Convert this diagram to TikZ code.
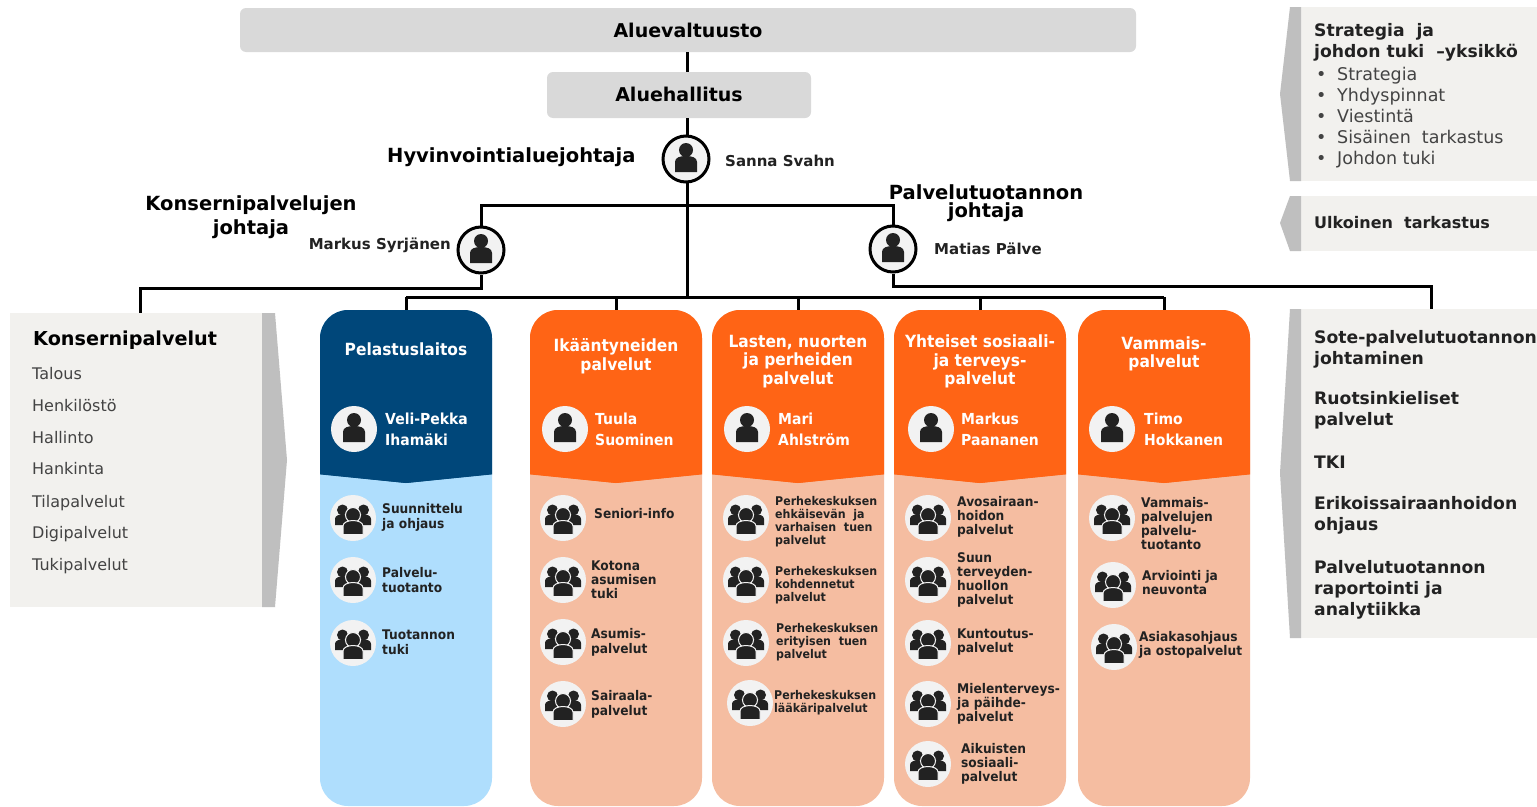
\documentclass[tikz,border=0pt]{standalone}
\usepackage{fontspec}
\setmainfont{DejaVu Sans}
\newfontfamily\tallf[FakeStretch=0.92]{DejaVu Sans}
\definecolor{navy}{HTML}{00477A}
\definecolor{orng}{HTML}{FF6415}
\definecolor{salm}{HTML}{F5BDA1}
\definecolor{lblue}{HTML}{AFDEFD}
\definecolor{panel}{HTML}{F2F1EE}
\definecolor{strip}{HTML}{BFBFBF}
\definecolor{barc}{HTML}{D9D9D9}
\definecolor{circ}{HTML}{F2F2F2}
\definecolor{ink}{HTML}{222222}
\newcommand{\fs}[2]{\fontsize{#1pt}{#2pt}\selectfont}
\tikzset{
  line/.style={draw=black,line width=3pt},
  barbox/.style={fill=barc,rounded corners=6pt,inner sep=0pt,font=\fs{19}{22}\bfseries},
  colbox/.style={rounded corners=28pt,inner sep=0pt,minimum width=172pt,minimum height=496pt},
  persring/.style={circle,draw=black,line width=3pt,fill=circ,minimum size=46pt,inner sep=0pt},
  pers/.style={circle,fill=circ,minimum size=46pt,inner sep=0pt},
  grp/.style={circle,fill=circ,minimum size=46pt,inner sep=0pt},
  hd/.style={align=center,inner sep=0pt,text=white,font=\tallf\fs{16.8}{18.5}\bfseries},
  pname/.style={align=left,anchor=west,inner sep=0pt,text=white,font=\tallf\fs{15.2}{21}\bfseries},
  unit/.style={align=left,anchor=west,inner sep=0pt,text=ink,font=\tallf\fs{13.3}{14}\bfseries},
  unitw/.style={align=left,anchor=west,inner sep=0pt,text=ink,font=\tallf\fs{13.3}{15}\bfseries},
  unitsm/.style={align=left,anchor=west,inner sep=0pt,text=ink,font=\tallf\fs{12}{13}\bfseries},
  role/.style={align=center,inner sep=0pt,font=\fs{19.5}{24}\bfseries},
  who/.style={align=left,inner sep=0pt,text=ink,font=\fs{15}{17}\bfseries},
  rtitle/.style={align=left,anchor=west,inner sep=0pt,text=ink,font=\fs{17.2}{21}\bfseries},
  rbody/.style={anchor=west,inner sep=0pt,text height=13pt,text depth=4pt,text=ink!85!white,font=\fs{17.5}{21}},
  ltxt/.style={anchor=west,inner sep=0pt,text height=12pt,text depth=4pt,text=ink!85!white,font=\fs{16}{18}},
  perso/.pic={\fill[ink] (0,-9) circle (7pt);
    \fill[ink] (-11,13) -- (-11,3) .. controls (-11,-1.5) and (-6,-3) .. (0,-3) .. controls (6,-3) and (11,-1.5) .. (11,3) -- (11,13) -- cycle;},
  group/.pic={\fill[ink] (-10.5,-8) circle (5.5pt) (10.5,-8) circle (5.5pt);
    \fill[ink] (-18,7) -- (-18,1) .. controls (-18,-2.5) and (-14,-3.5) .. (-10,-3.5) .. controls (-6,-3.5) and (-2,-2.5) .. (-2,1) -- (-2,7) -- cycle;
    \fill[ink] (2,7) -- (2,1) .. controls (2,-2.5) and (6,-3.5) .. (10,-3.5) .. controls (14,-3.5) and (18,-2.5) .. (18,1) -- (18,7) -- cycle;
    \filldraw[fill=ink,draw=circ,line width=1pt] (0,-3) circle (7.5pt);
    \filldraw[fill=ink,draw=circ,line width=1pt] (-10,16.5) -- (-10,8) .. controls (-10,4.5) and (-5,2.5) .. (0,2.5) .. controls (5,2.5) and (10,4.5) .. (10,8) -- (10,16.5) -- cycle;}
}
% #1 name, #2 centre x, #3 body colour, #4 header colour
\newcommand{\column}[4]{%
  \node[colbox,fill=#3] (#1) at (#2,558) {};
  \begin{scope}
    \clip (#2-90,300) rectangle (#2+90,474) (#2-90,474) -- (#2,483) -- (#2+90,474) -- cycle;
    \fill[#4,rounded corners=28pt] (#2-86,310) rectangle (#2+86,806);
    \fill[#4] (#2-86,474) -- (#2,483) -- (#2+86,474) -- cycle;
  \end{scope}}
% #1 name, #2 x, #3 y
\newcommand{\personnode}[3]{\node[pers] (#1) at (#2,#3) {}; \pic at (#1) {perso};}
\newcommand{\groupnode}[3]{\node[grp] (#1) at (#2,#3) {}; \pic at (#1) {group};}
\begin{document}
\begin{tikzpicture}[x=1pt,y=-1pt]
\useasboundingbox[fill=white] (0,0) rectangle (1537,806);
% top bars
\node[barbox,minimum width=896pt,minimum height=44pt] (valt) at (688,30) {Aluevaltuusto};
\node[barbox,minimum width=264pt,minimum height=46pt] (hall) at (679,95) {\raisebox{1pt}{Aluehallitus}};
% side panels
\fill[panel] (10,313) rectangle (262,607);
\fill[strip] (262,313) -- (275,313) -- (287,460) -- (275,607) -- (262,607) -- cycle;
\fill[panel] (1301,7) rectangle (1537,181);
\fill[strip] (1301,7) -- (1290,7) -- (1280,94) -- (1290,181) -- (1301,181) -- cycle;
\fill[panel] (1301,196) rectangle (1537,251);
\fill[strip] (1301,196) -- (1290,196) -- (1280,223) -- (1290,251) -- (1301,251) -- cycle;
\fill[panel] (1301,309) rectangle (1537,638);
\fill[strip] (1301,309) -- (1290,309) -- (1280,473) -- (1290,638) -- (1301,638) -- cycle;
\coordinate (lpanel) at (140,313);
\coordinate (rpanel) at (1431,309);
% columns
\column{c1}{406}{lblue}{navy}
\column{c2}{616}{salm}{orng}
\column{c3}{798}{salm}{orng}
\column{c4}{980}{salm}{orng}
\column{c5}{1164}{salm}{orng}
% leaders
\node[persring] (svahn) at (686,159) {};
\node[persring] (syrj) at (481,250) {};
\node[persring] (palve) at (893,249) {};
\pic at (svahn) {perso};
\pic at (syrj) {perso};
\pic at (palve) {perso};
% connectors
\coordinate (vtop) at (687,52);
\coordinate (htop) at (687,72);
\coordinate (hbot) at (687,118);
\coordinate (stop) at (687,136);
\coordinate (sbot) at (687,183);
\coordinate (jun) at (687,205);
\coordinate (bus) at (687,297);
\coordinate (lrun) at (481,288);
\coordinate (rrun) at (893,286);
\coordinate (b1) at (406,297);
\coordinate (b2) at (616,297);
\coordinate (b3) at (798,297);
\coordinate (b4) at (980,297);
\coordinate (b5) at (1164,297);
\draw[line] (vtop) -- (htop);
\draw[line] (hbot) -- (stop);
\draw[line] (sbot) -- (bus);
\draw[line] (syrj.north) |- (jun) -| (palve.north);
\draw[line] (syrj.south) -- (lrun) -| (lpanel);
\draw[line] (palve.south) -- (rrun) -| (rpanel);
\draw[line] (b1) -- (b5);
\draw[line] (b1) -- (c1.north);
\draw[line] (b2) -- (c2.north);
\draw[line] (b3) -- (c3.north);
\draw[line] (b4) -- (c4.north);
\draw[line] (b5) -- (c5.north);
% role labels
\node[role,anchor=west] (r1) at (387,157) {Hyvinvointialuejohtaja};
\node[who,anchor=west] (n1) at (725,161) {Sanna Svahn};
\node[role] (r2) at (251,217) {Konsernipalvelujen\\johtaja};
\node[role,font=\fs{19.5}{17.5}\bfseries] (r3) at (986,203) {Palvelutuotannon\\johtaja};
\node[who,anchor=east] (n2) at (451,245) {Markus Syrjänen};
\node[who,anchor=west] (n3) at (934,249) {Matias Pälve};
% left panel
\node[anchor=west,inner sep=0pt,font=\fs{19.2}{22}\bfseries] (lt) at (33,340) {Konsernipalvelut};
\node[ltxt] (l1) at (32,375) {Talous};
\node[ltxt] (l2) at (32,407) {Henkilöstö};
\node[ltxt] (l3) at (32,439) {Hallinto};
\node[ltxt] (l4) at (32,470) {Hankinta};
\node[ltxt] (l5) at (32,503) {Tilapalvelut};
\node[ltxt] (l6) at (32,534) {Digipalvelut};
\node[ltxt] (l7) at (32,566) {Tukipalvelut};
% right panels
\node[rtitle] (s1) at (1314,42.5) {Strategia\ \ ja\\johdon tuki\ \ –yksikkö};
\foreach \yy/\tt in {76/Strategia,97/Yhdyspinnat,118/Viestintä,139/Sisäinen\ \ tarkastus,160/Johdon tuki}{
  \node[rbody] (sb\yy) at (1316,\yy) {•};
  \node[rbody] (st\yy) at (1337,\yy) {\tt};
}
\node[rtitle,font=\fs{16}{18}\bfseries] (u1) at (1314,223) {Ulkoinen\ \ tarkastus};
\node[rtitle] (p1) at (1314,349) {Sote-palvelutuotannon\\johtaminen};
\node[rtitle] (p2) at (1314,410.5) {Ruotsinkieliset\\palvelut};
\node[rtitle] (p3) at (1314,462) {TKI};
\node[rtitle] (p4) at (1314,515.5) {Erikoissairaanhoidon\\ohjaus};
\node[rtitle] (p5) at (1314,590) {Palvelutuotannon\\raportointi ja\\analytiikka};
% column headers
\node[hd] (h1) at (406,349) {Pelastuslaitos};
\node[hd] (h2) at (616,356) {Ikääntyneiden\\palvelut};
\node[hd] (h3) at (798,361.5) {Lasten, nuorten\\ja perheiden\\palvelut};
\node[hd] (h4) at (980,361.5) {Yhteiset sosiaali-\\ja terveys-\\palvelut};
\node[hd] (h5) at (1164,354) {Vammais-\\palvelut};
% heads of service
\personnode{pa}{354}{429}
\personnode{pb}{565}{429}
\personnode{pc}{747}{429}
\personnode{pd}{931}{429}
\personnode{pe}{1112}{429}
\node[pname] (na) at (385,429) {Veli-Pekka\\Ihamäki};
\node[pname] (nb) at (595,429) {Tuula\\Suominen};
\node[pname] (nc) at (778,429) {Mari\\Ahlström};
\node[pname] (nd) at (961,429) {Markus\\Paananen};
\node[pname] (ne) at (1144,429) {Timo\\Hokkanen};
% unit texts
\node[unitw] (ta1) at (382,517) {Suunnittelu\\ja ohjaus};
\node[unitw] (ta2) at (382,580) {Palvelu-\\tuotanto};
\node[unitw] (ta3) at (382,642) {Tuotannon\\tuki};
\node[unit] (tb1) at (594,514) {Seniori-info};
\node[unit] (tb2) at (591,580) {Kotona\\asumisen\\tuki};
\node[unitw] (tb3) at (591,642) {Asumis-\\palvelut};
\node[unitw] (tb4) at (591,704) {Sairaala-\\palvelut};
\node[unitsm] (tc1) at (775,521.5) {Perhekeskuksen\\ehkäisevän\ \ ja\\varhaisen\ \ tuen\\palvelut};
\node[unitsm] (tc2) at (775,585) {Perhekeskuksen\\kohdennetut\\palvelut};
\node[unitsm] (tc3) at (776,642) {Perhekeskuksen\\erityisen\ \ tuen\\palvelut};
\node[unitsm] (tc4) at (774,703) {Perhekeskuksen\\lääkäripalvelut};
\node[unit] (td1) at (957,517) {Avosairaan-\\hoidon\\palvelut};
\node[unit] (td2) at (957,580) {Suun\\terveyden-\\huollon\\palvelut};
\node[unit] (td3) at (957,642) {Kuntoutus-\\palvelut};
\node[unit] (td4) at (957,704) {Mielenterveys-\\ja päihde-\\palvelut};
\node[unit] (td5) at (961,764) {Aikuisten\\sosiaali-\\palvelut};
\node[unit] (te1) at (1141,524) {Vammais-\\palvelujen\\palvelu-\\tuotanto};
\node[unit] (te2) at (1142,583) {Arviointi ja\\neuvonta};
\node[unit] (te3) at (1139,645) {Asiakasohjaus\\ja ostopalvelut};
% unit circles
\groupnode{ga1}{353}{518}
\groupnode{ga2}{353}{580}
\groupnode{ga3}{353}{643}
\groupnode{gb1}{563}{518}
\groupnode{gb2}{563}{580}
\groupnode{gb3}{563}{642}
\groupnode{gb4}{563}{704}
\groupnode{gc1}{746}{518}
\groupnode{gc2}{746}{580}
\groupnode{gc3}{746}{643}
\groupnode{gc4}{750}{703}
\groupnode{gd1}{928}{518}
\groupnode{gd2}{928}{580}
\groupnode{gd3}{928}{643}
\groupnode{gd4}{928}{704}
\groupnode{gd5}{928}{764}
\groupnode{ge1}{1112}{518}
\groupnode{ge2}{1113}{585}
\groupnode{ge3}{1114}{647}
\end{tikzpicture}
\end{document}
